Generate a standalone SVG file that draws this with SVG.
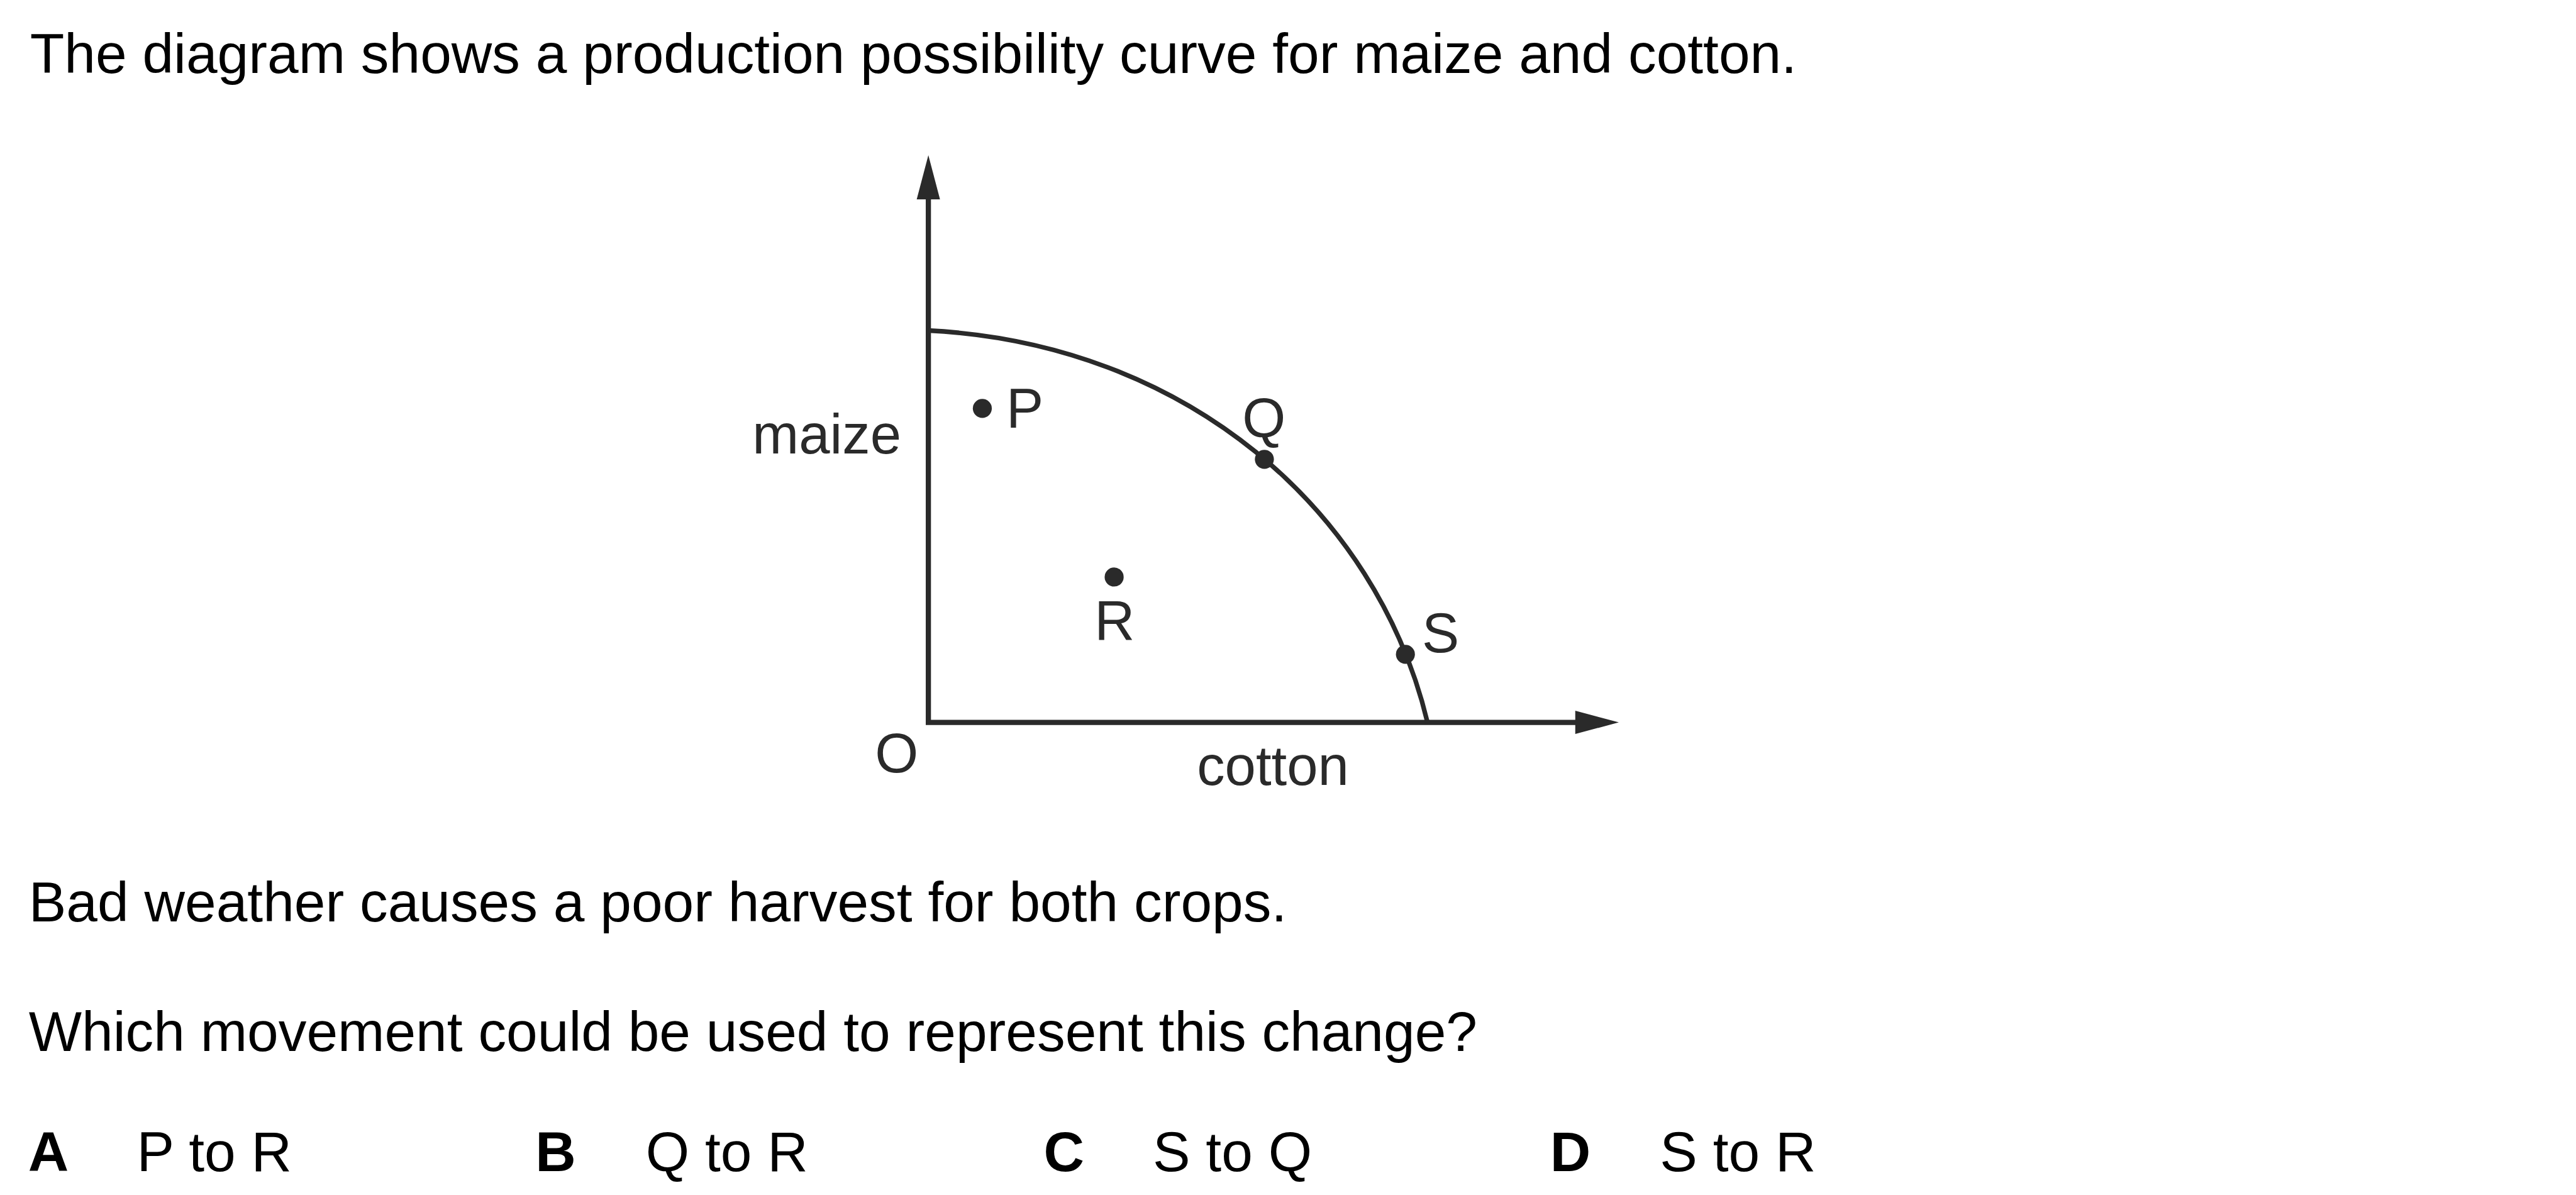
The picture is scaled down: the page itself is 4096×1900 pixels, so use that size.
<svg xmlns="http://www.w3.org/2000/svg" width="4096" height="1900" viewBox="0 0 4096 1900">
<style>
.q{font-family:"Liberation Sans",Arial,sans-serif;font-size:91.6px;fill:#000}
.b{font-weight:bold}
.lbl{font-family:"Liberation Sans",Arial,sans-serif;font-size:91px;fill:#2a2a2a}
.ax{stroke:#2a2a2a;stroke-width:8.5;fill:none}
.cv{stroke:#2a2a2a;stroke-width:7.5;fill:none}
.dot{fill:#2a2a2a}
.head{fill:#2a2a2a}
</style>
<rect width="4096" height="1900" fill="#fff"/>
<g transform="scale(0.975)">
  <g id="question">
    <text class="q" x="49" y="119">The diagram shows a production possibility curve for maize and cotton.</text>
    <text class="q" x="47" y="1503">Bad weather causes a poor harvest for both crops.</text>
    <text class="q" x="47" y="1714">Which movement could be used to represent this change?</text>
  </g>
  <g id="options">
    <text class="q b" x="46" y="1910">A</text><text class="q" x="223" y="1910">P to R</text>
    <text class="q b" x="873" y="1910">B</text><text class="q" x="1053" y="1910">Q to R</text>
    <text class="q b" x="1702" y="1910">C</text><text class="q" x="1880" y="1910">S to Q</text>
    <text class="q b" x="2528" y="1910">D</text><text class="q" x="2707" y="1910">S to R</text>
  </g>
  <g id="connectors">
    <path class="ax" d="M1514,322 V1178 H2572"/>
    <polygon class="head" points="1514,253 1495,325 1533,325"/>
    <polygon class="head" points="2640,1178 2569,1159 2569,1197"/>
    <path class="cv" d="M1514,539 C1934,560 2245,832 2328,1178"/>
  </g>
  <g id="axis-labels">
    <text class="lbl" x="1227" y="739">maize</text>
    <text class="lbl" x="1952" y="1280">cotton</text>
    <text class="lbl" x="1427" y="1260">O</text>
  </g>
  <g id="point-P"><circle class="dot" cx="1602" cy="666" r="15.5"/><text class="lbl" x="1641" y="697">P</text></g>
  <g id="point-Q"><circle class="dot" cx="2062" cy="749" r="15.5"/><text class="lbl" x="2026" y="713">Q</text></g>
  <g id="point-R"><circle class="dot" cx="1817" cy="941" r="15.5"/><text class="lbl" x="1785" y="1043">R</text></g>
  <g id="point-S"><circle class="dot" cx="2292" cy="1067" r="15.5"/><text class="lbl" x="2319" y="1064">S</text></g>
</g>
</svg>
